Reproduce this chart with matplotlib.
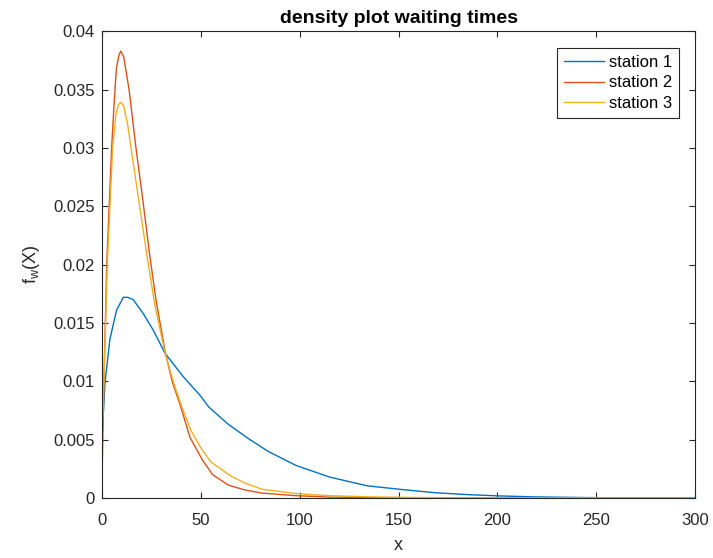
import matplotlib
matplotlib.use("Agg")
import matplotlib.pyplot as plt
from matplotlib.ticker import FuncFormatter

plt.rcParams['font.family'] = ['Liberation Sans', 'DejaVu Sans']

# values (x = waiting time, y = density)
x1 = [0, 1.5, 4, 7.4, 10.8, 13, 15.8, 20.9, 25.9, 31.9, 41.1, 49.6, 54, 64,
      74, 84, 98, 115, 134, 151, 168, 185, 201, 218, 235, 250, 270, 300]
y1 = [0.005, 0.0098, 0.0136, 0.0161, 0.0172, 0.0172, 0.0170, 0.0158, 0.0144,
      0.0124, 0.0104, 0.0088, 0.0078, 0.0063, 0.0051, 0.0040, 0.0028, 0.0018,
      0.00105, 0.00074, 0.00046, 0.00029, 0.00018, 0.0001, 0.00006, 0.00003,
      0.00001, 0.0]

x2 = [0, 1.0, 2.4, 4.9, 6.2, 7.3, 8.5, 9.5, 11, 13.7, 17.2, 20.7, 24, 27.3,
      32, 35.5, 39.5, 44.5, 51, 56, 64, 72, 81, 98, 115, 140, 170, 300]
y2 = [0.0015, 0.010, 0.020, 0.030, 0.034, 0.0368, 0.0379, 0.0383, 0.0378,
      0.035, 0.030, 0.0255, 0.021, 0.0170, 0.0125, 0.0100, 0.0080, 0.0052,
      0.0032, 0.0020, 0.0011, 0.0007, 0.00042, 0.0002, 0.00008, 0.00002,
      0.0, 0.0]

x3 = [0, 1.0, 2.7, 5.4, 7.0, 8.3, 9.5, 11, 13, 16, 19.5, 23, 27, 32, 36, 40,
      45, 50, 55, 65, 72, 81, 98, 115, 135, 160, 200, 300]
y3 = [0.005, 0.010, 0.020, 0.030, 0.0328, 0.0337, 0.0339, 0.0336, 0.032,
      0.0285, 0.0245, 0.0205, 0.0163, 0.0124, 0.0100, 0.0080, 0.0058, 0.0043,
      0.0031, 0.0019, 0.0013, 0.00075, 0.00038, 0.0002, 0.0001, 0.00004,
      0.00001, 0.0]

labels = ["station 1", "station 2", "station 3"]
colors = ["#0072BD", "#D95319", "#EDB120"]

fig = plt.figure(figsize=(7.13, 5.58), dpi=100)
ax = fig.add_axes([0.143, 0.1075, 0.832, 0.8365])

for xs, ys, lab, col in zip([x1, x2, x3], [y1, y2, y3], labels, colors):
    ax.plot(xs, ys, color=col, lw=1.0, label=lab)

ax.set_xlim(0, 300)
ax.set_ylim(0, 0.04)
ax.set_xticks(range(0, 301, 50))
ax.set_yticks([i * 0.005 for i in range(9)])
ax.yaxis.set_major_formatter(FuncFormatter(lambda v, p: "%g" % round(v, 4)))

dark = "#262626"
for s in ax.spines.values():
    s.set_color(dark)
    s.set_linewidth(0.8)
ax.tick_params(direction="in", length=4, width=0.8, colors=dark,
               labelsize=12, top=True, right=True, pad=5)
ax.tick_params(axis="x", pad=11)

ax.set_title("density plot waiting times", fontsize=14, fontweight="bold",
             color="black", pad=6)
ax.set_xlabel("x", fontsize=13, color=dark, labelpad=6)
ax.set_ylabel(r"$\mathregular{f_w(X)}$", fontsize=13, color=dark, labelpad=8)

leg = ax.legend(loc="upper right", fontsize=12, fancybox=False, framealpha=1,
                edgecolor=dark, borderaxespad=1.0, handlelength=2.4,
                handletextpad=0.3, borderpad=0.4, labelspacing=0.35)
leg.get_frame().set_linewidth(0.8)

fig.savefig("out.png", dpi=100)
